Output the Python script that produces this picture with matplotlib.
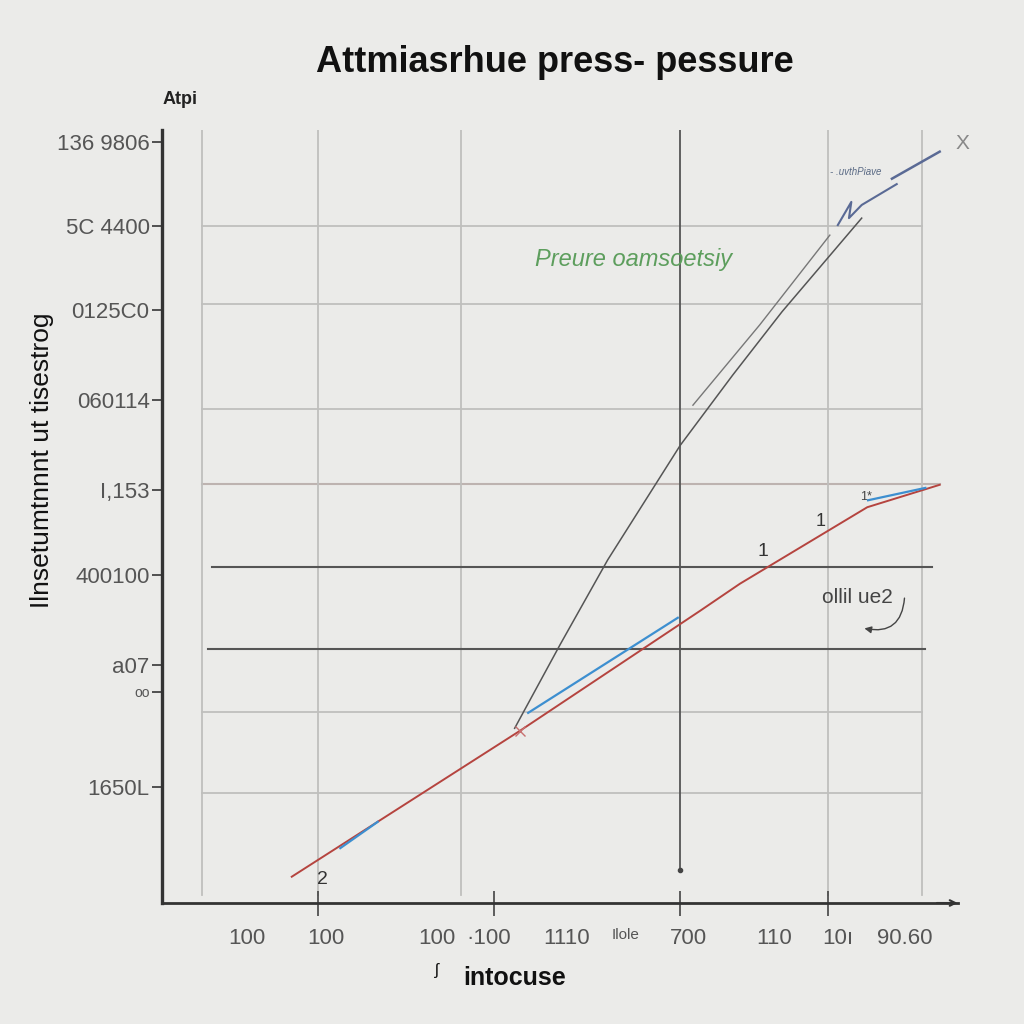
import numpy as np
import matplotlib.pyplot as plt
from matplotlib.patches import FancyArrowPatch

plt.rcParams['font.family'] = ['Liberation Sans', 'DejaVu Sans']

# values, in plot units (0-100 on both axes)
red_x = [16.3, 45.0, 67.6, 72.6, 88.6, 97.7]
red_y = [3.4, 22.3, 37.8, 41.3, 51.2, 54.1]

curve_a_x = [44.3, 50.0, 56.0, 65.1, 71.7, 77.9, 87.9]
curve_a_y = [22.6, 33.4, 44.4, 59.2, 68.3, 76.5, 88.6]
curve_b_x = [66.7, 75.1, 83.9]
curve_b_y = [64.4, 74.8, 86.4]

scrib_x = [84.9, 86.6, 86.3, 87.9, 92.3]
scrib_y = [87.7, 90.7, 88.6, 90.3, 93.0]
stroke_x = [91.7, 97.7]
stroke_y = [93.7, 97.2]

blue_segs = [([22.4, 27.1], [7.1, 10.5]),
             ([46.0, 64.8], [24.6, 36.9]),
             ([88.7, 95.9], [52.1, 53.7])]

hgrid_light = [87.6, 77.5, 63.9, 54.2, 24.7, 14.2]
hgrid_dark = [43.5, 32.9]
vgrid_light = [5.0, 19.6, 37.6, 83.7, 95.5]
vgrid_dark = 65.1

ytick_pos = [98.4, 87.6, 76.7, 65.1, 53.4, 42.4, 30.8, 27.3, 15.0]
ytick_lab = ['136 9806', '5C 4400', '0125C0', '060114', 'I,153',
             '400100', 'a07', 'oo', '1650L']
xtick_pos = [10.6, 20.6, 34.5, 41.0, 50.8, 58.2, 66.1, 76.9, 84.9, 93.3]
xtick_lab = ['100', '100', '100', '\u00b7100', '1110', 'Ilole', '700',
             '110', '10\u0131', '90.60']
xmark_pos = [19.6, 41.7, 65.1, 83.7]

bg = '#ebebe9'
fig = plt.figure(figsize=(10.24, 10.24), dpi=100, facecolor=bg)
ax = fig.add_axes([162 / 1024, 121 / 1024, 796 / 1024, 773 / 1024])
ax.set_facecolor(bg)
ax.set_xlim(0, 100)
ax.set_ylim(0, 100)

# grid
for y in hgrid_light:
    ax.plot([5.0, 95.5], [y, y], color='#bfbfbd', lw=1.3, zorder=1)
ax.plot([5.0, 97.7], [54.2, 54.2], color='#bdb3b0', lw=1.5, zorder=1)
ax.plot([6.3, 96.7], [hgrid_dark[0]] * 2, color='#555555', lw=1.5, zorder=2)
ax.plot([5.8, 95.9], [hgrid_dark[1]] * 2, color='#555555', lw=1.5, zorder=2)
for x in vgrid_light:
    ax.plot([x, x], [1.0, 100], color='#bfbfbd', lw=1.3, zorder=1)
ax.plot([vgrid_dark] * 2, [4.3, 100], color='#555555', lw=1.3, zorder=2)
ax.plot(vgrid_dark, 4.3, 'o', color='#444444', ms=3, zorder=2)

# lines
ax.plot(curve_a_x, curve_a_y, color='#555555', lw=1.1, zorder=3)
ax.plot(curve_b_x, curve_b_y, color='#777777', lw=1.0, zorder=3)
ax.plot(red_x, red_y, color='#b5443f', lw=1.4, zorder=4)
for bx, by in blue_segs:
    ax.plot(bx, by, color='#3d8fd0', lw=1.6, zorder=5)
ax.plot(scrib_x, scrib_y, color='#5a6a95', lw=1.5, zorder=5)
ax.plot(stroke_x, stroke_y, color='#5a6a95', lw=1.8, zorder=5)
ax.plot(45.0, 22.3, marker='x', color='#c87070', ms=7, zorder=6)

# annotations
ax.text(59.2, 83.2, 'Preure oamsoetsiy', color='#5d9e5d', fontsize=17,
        style='italic', ha='center', va='center')
ax.text(87.1, 94.6, '- .uvthPiave', color='#5a6a85', fontsize=7,
        style='italic', ha='center', va='center')
ax.text(100.6, 98.3, 'X', color='#888888', fontsize=15, ha='center',
        va='center', clip_on=False)
ax.text(87.4, 39.5, 'ollil ue2', color='#444444', fontsize=15,
        ha='center', va='center')
ax.add_patch(FancyArrowPatch((93.3, 39.8), (87.9, 35.6),
                             connectionstyle='arc3,rad=-0.6',
                             arrowstyle='-|>', mutation_scale=10,
                             color='#444444', lw=1))
ax.text(20.1, 3.0, '2', color='#333333', fontsize=14, ha='center', va='center')
ax.text(75.5, 45.5, '1', color='#333333', fontsize=14, ha='center', va='center')
ax.text(82.7, 49.4, '1', color='#333333', fontsize=13, ha='center', va='center')
ax.text(88.4, 52.5, "1*", color='#444444', fontsize=9, ha='center', va='center')

# axes
for s in ['top', 'right']:
    ax.spines[s].set_visible(False)
ax.spines['left'].set_linewidth(2.4)
ax.spines['left'].set_color('#333333')
ax.spines['bottom'].set_linewidth(2.0)
ax.spines['bottom'].set_color('#333333')
ax.annotate('', xy=(100.3, 0), xytext=(97, 0),
            arrowprops=dict(arrowstyle='->', color='#333333', lw=1.5),
            annotation_clip=False)

ax.set_yticks(ytick_pos)
ax.set_yticklabels(ytick_lab)
ax.tick_params(axis='y', length=7, width=1.3, color='#444444', pad=2,
               labelsize=16, labelcolor='#555555')
ax.get_yticklabels()[7].set_fontsize(10)

ax.set_xticks(xtick_pos)
ax.set_xticklabels(xtick_lab)
ax.tick_params(axis='x', length=0, pad=18, labelsize=16, labelcolor='#555555')
ax.get_xticklabels()[5].set_fontsize(11)
ax.set_xticks(xmark_pos, minor=True)
ax.tick_params(axis='x', which='minor', direction='inout', length=18,
               width=1.2, color='#444444')

fig.text(0.542, 0.939, 'Attmiasrhue press- pessure', ha='center', va='center',
         fontsize=26, fontweight='bold', color='#111111')
fig.text(180 / 1024, 1 - 100 / 1024, 'Atpi', ha='center', va='center',
         fontsize=13, fontweight='bold', color='#222222')
fig.text(42 / 1024, 1 - 460 / 1024, 'Ilnsetumtnnnt ut tisestrog',
         rotation=90, ha='center', va='center', fontsize=19, color='#111111')
fig.text(515 / 1024, 1 - 978 / 1024, 'intocuse', ha='center', va='center',
         fontsize=18, fontweight='bold', color='#111111')
fig.text(437 / 1024, 1 - 970 / 1024, '\u0283', ha='center', va='center',
         fontsize=12, color='#111111')

fig.savefig('out.png', dpi=100, facecolor=bg)
